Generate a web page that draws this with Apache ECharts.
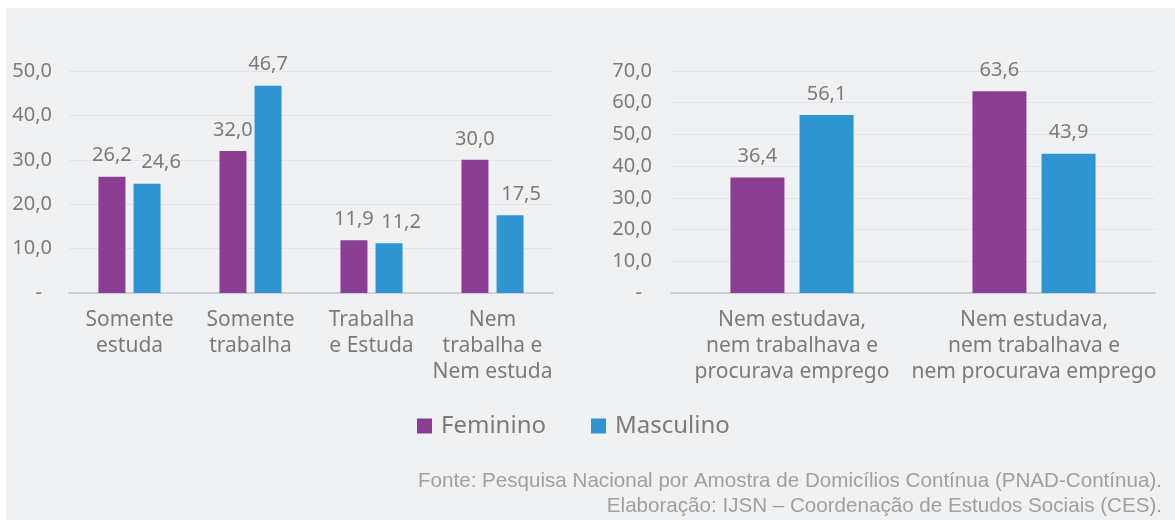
<!DOCTYPE html>
<html>
<head>
<meta charset="utf-8">
<script src="https://cdn.jsdelivr.net/npm/echarts@6/dist/echarts.min.js"></script>
<style>
  html, body { margin: 0; padding: 0; background: #ffffff; }
  #chart { width: 1175px; height: 520px; }
</style>
</head>
<body>
<div id="chart"></div>
<script>
// situação dos jovens por sexo
var catLeft = ['Somente\nestuda', 'Somente\ntrabalha', 'Trabalha\ne Estuda', 'Nem\ntrabalha e\nNem estuda'];
var femLeft = [26.2, 32.0, 11.9, 30.0];
var mascLeft = [24.6, 46.7, 11.2, 17.5];

var catRight = ['Nem estudava,\nnem trabalhava e\nprocurava emprego', 'Nem estudava,\nnem trabalhava e\nnem procurava emprego'];
var femRight = [36.4, 63.6];
var mascRight = [56.1, 43.9];

var seriesNames = ['Feminino', 'Masculino'];
var fonte = 'Fonte: Pesquisa Nacional por Amostra de Domicílios Contínua (PNAD-Contínua).';
var elaboracao = 'Elaboração: IJSN – Coordenação de Estudos Sociais (CES).';

var roxo = '#8a3f94';
var azul = '#2e95d2';
var cinza = '#7b7b7b';
var fonteTxt = '"Noto Sans", "Open Sans", sans-serif';

// deslocamento horizontal dos rótulos azuis (como no original)
var dxMascLeft = [14, 0, 12, 11];

function fmt(v) {
    return v === 0 ? '{d|-}' : v.toFixed(1).replace('.', ',');
}

function valueLabel() {
    return {
        show: true,
        position: 'top',
        distance: 11,
        color: cinza,
        fontSize: 20,
        fontFamily: fonteTxt,
        formatter: function (p) {
            return p.value.toFixed(1).replace('.', ',');
        }
    };
}

function yAxis(idx, max, margin) {
    return {
        type: 'value',
        gridIndex: idx,
        min: 0,
        max: max,
        interval: 10,
        axisLine: { show: false },
        axisTick: { show: false },
        splitLine: { lineStyle: { color: '#e3e4e7', width: 1 } },
        axisLabel: {
            color: cinza,
            fontSize: 20,
            fontFamily: fonteTxt,
            margin: margin,
            formatter: fmt,
            rich: { d: { color: cinza, fontSize: 20, padding: [0, 10, 0, 0] } }
        }
    };
}

function xAxis(idx, data) {
    return {
        type: 'category',
        gridIndex: idx,
        data: data,
        axisTick: { show: false },
        axisLine: { lineStyle: { color: '#c4c5c8', width: 1.5 } },
        axisLabel: {
            color: cinza,
            fontSize: 21,
            lineHeight: 26,
            fontFamily: fonteTxt,
            margin: 14,
            interval: 0
        }
    };
}

var myChart = echarts.init(document.getElementById('chart'), null, { renderer: 'canvas' });

var option = {
    backgroundColor: '#ffffff',
    animation: false,
    graphic: [
        {
            type: 'rect',
            z: -10,
            shape: { x: 6, y: 8, width: 1175, height: 520 },
            style: { fill: '#f0f1f3' }
        },
        {
            type: 'text',
            right: 13,
            top: 471,
            style: {
                text: fonte,
                fill: '#a0a0a0',
                font: '20.6px "Liberation Sans", Arial, sans-serif'
            }
        },
        {
            type: 'text',
            right: 13,
            top: 496,
            style: {
                text: elaboracao,
                fill: '#a0a0a0',
                font: '20.6px "Liberation Sans", Arial, sans-serif'
            }
        }
    ],
    legend: {
        data: seriesNames,
        left: 412,
        top: 409,
        icon: 'rect',
        itemWidth: 15,
        itemHeight: 15,
        itemGap: 45,
        textStyle: { color: cinza, fontSize: 24, fontFamily: fonteTxt, padding: [0, 0, 0, 4] }
    },
    grid: [
        { left: 69, right: 622, top: 71, bottom: 227 },
        { left: 671, right: 20, top: 71, bottom: 227 }
    ],
    xAxis: [xAxis(0, catLeft), xAxis(1, catRight)],
    yAxis: [yAxis(0, 50, 17), yAxis(1, 70, 19)],
    series: [
        {
            name: seriesNames[0], type: 'bar', xAxisIndex: 0, yAxisIndex: 0,
            barWidth: 27, barGap: '30%',
            itemStyle: { color: roxo },
            label: valueLabel(),
            data: femLeft
        },
        {
            name: seriesNames[1], type: 'bar', xAxisIndex: 0, yAxisIndex: 0,
            barWidth: 27, barGap: '30%',
            itemStyle: { color: azul },
            label: valueLabel(),
            data: mascLeft.map(function (v, i) {
                return { value: v, label: { offset: [dxMascLeft[i], 0] } };
            })
        },
        {
            name: seriesNames[0], type: 'bar', xAxisIndex: 1, yAxisIndex: 1,
            barWidth: 54, barGap: '28%',
            itemStyle: { color: roxo },
            label: valueLabel(),
            data: femRight
        },
        {
            name: seriesNames[1], type: 'bar', xAxisIndex: 1, yAxisIndex: 1,
            barWidth: 54, barGap: '28%',
            itemStyle: { color: azul },
            label: valueLabel(),
            data: mascRight
        }
    ]
};
myChart.setOption(option);
window.addEventListener('resize', function () {
    myChart.resize();
});
</script>
</body>
</html>
